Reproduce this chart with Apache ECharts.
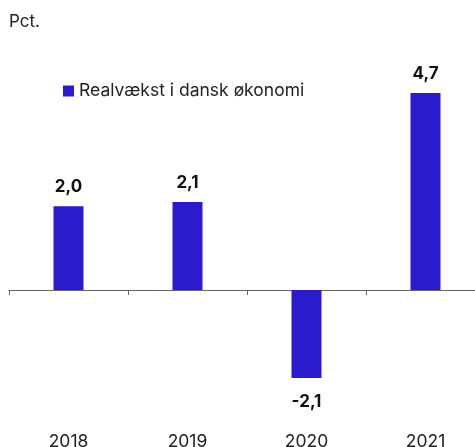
<!DOCTYPE html>
<html>
<head>
<meta charset="utf-8">
<script src="https://cdn.jsdelivr.net/npm/echarts@6/dist/echarts.min.js"></script>
<style>
html,body{margin:0;padding:0;background:#fff;}
#chart{width:475px;height:447px;}
</style>
</head>
<body>
<div id="chart"></div>
<script>
const years = ['2018', '2019', '2020', '2021'];
const growth = [2.0, 2.1, -2.1, 4.7];
const seriesName = 'Realvækst i dansk økonomi';

const fontFamily = 'Inter';
const barColor = '#2b1bcf';

let chart = echarts.init(document.getElementById('chart'));
chart.setOption({
    animation: false,
    textStyle: {fontFamily: fontFamily},
    title: {
        text: 'Pct.',
        left: 4,
        top: 8,
        textStyle: {
            fontFamily: fontFamily,
            fontSize: 17,
            fontWeight: 'normal',
            color: '#222'
        }
    },
    legend: {
        left: 58,
        top: 77,
        icon: 'rect',
        itemWidth: 11,
        itemHeight: 11,
        itemGap: 5,
        data: [seriesName],
        textStyle: {
            fontFamily: fontFamily,
            fontSize: 17.5,
            color: '#222'
        }
    },
    grid: {
        left: 9,
        right: -10,
        top: 80.5,
        bottom: 31.3,
        containLabel: false,
        outerBoundsMode: 'none'
    },
    xAxis: [{
        // zero line with ticks between categories
        type: 'category',
        data: years,
        boundaryGap: true,
        axisLine: {
            onZero: true,
            lineStyle: {color: '#666', width: 1}
        },
        axisTick: {
            show: true,
            length: 5,
            lineStyle: {color: '#666'}
        },
        axisLabel: {show: false}
    }, {
        // year labels along the bottom
        type: 'category',
        data: years,
        position: 'bottom',
        boundaryGap: true,
        axisLine: {show: false, onZero: false},
        axisTick: {show: false},
        axisLabel: {
            margin: 17,
            fontSize: 17.5,
            color: '#222'
        }
    }],
    yAxis: {
        type: 'value',
        min: -3,
        max: 5,
        show: false,
        splitLine: {show: false}
    },
    series: [{
        name: seriesName,
        type: 'bar',
        xAxisIndex: 0,
        barWidth: 30,
        itemStyle: {color: barColor},
        data: growth.map(v => ({
            value: v,
            label: v < 0 ? {position: 'bottom', distance: 15} : {position: 'top', distance: 11}
        })),
        label: {
            show: true,
            fontSize: 17,
            fontWeight: 'bold',
            color: '#111',
            formatter: function (p) {
                return p.value.toFixed(1).replace('.', ',');
            }
        }
    }]
});
</script>
</body>
</html>
